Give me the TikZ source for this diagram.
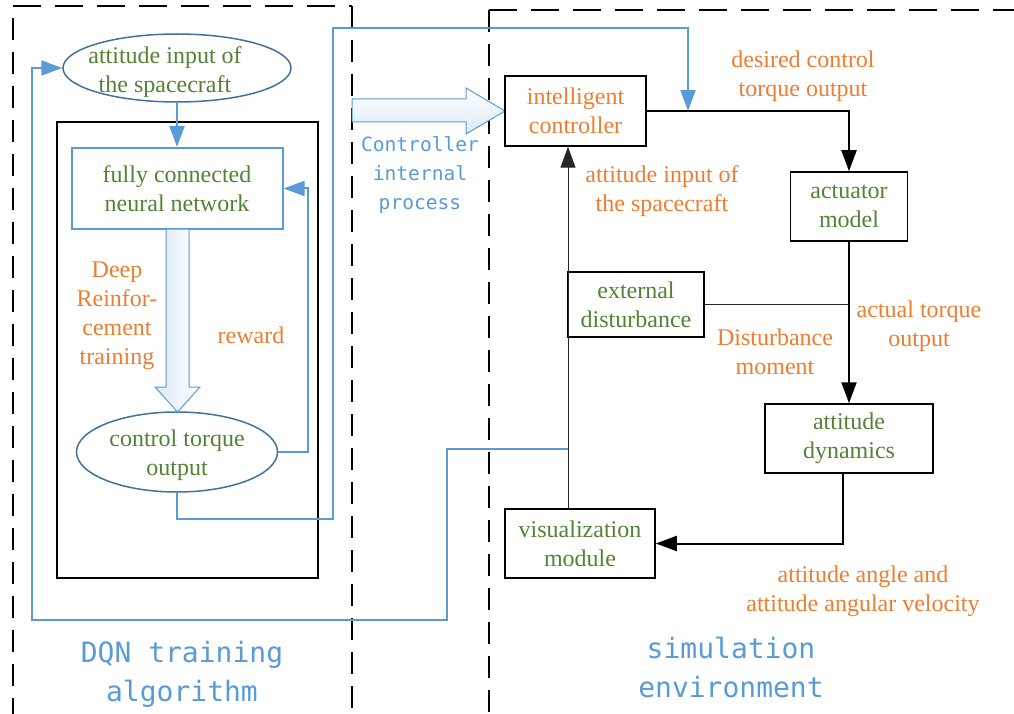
\documentclass[tikz,border=0pt]{standalone}
\usepackage{fontspec}
\setmainfont{Liberation Serif}
\newfontfamily\monofont{DejaVu Sans Mono}
\usetikzlibrary{arrows.meta,shapes.geometric}
\definecolor{cblue}{HTML}{5B9BD5}
\definecolor{cblueD}{HTML}{41719C}
\definecolor{cgreen}{HTML}{548235}
\definecolor{corange}{HTML}{ED7D31}
\begin{document}
\begin{tikzpicture}[x=1pt,y=-1pt,
  txt/.style={font=\fontsize{24}{29}\selectfont, align=center, inner sep=0pt},
  gtxt/.style={txt, text=cgreen},
  otxt/.style={txt, text=corange},
  bbox/.style={draw=black, line width=1.5pt, inner sep=0pt},
  tip/.style={-{Triangle[length=21pt,width=15pt]}},
  blk/.style={draw=black, line width=2pt, tip},
  thinl/.style={draw=black!85, line width=1pt},
  bl/.style={draw=cblue, line width=2pt},
  blarrow/.style={bl, tip},
  ell/.style={ellipse, draw=cblueD, line width=1.5pt, inner sep=0pt},
  hollow/.style={draw=cblue, line width=1pt},
  frameH/.style={draw=black, line width=1.5pt, dash pattern=on 28pt off 14pt},
  frameV/.style={draw=black, line width=1.5pt, dash pattern=on 22pt off 12pt},
  mono/.style={font=\monofont\fontsize{19.6}{29}\selectfont, text=cblue, align=center, inner sep=0pt},
  monoL/.style={font=\monofont\fontsize{28}{39}\selectfont, text=cblue, align=center, inner sep=0pt},
]
\useasboundingbox (0,0) rectangle (1014,714);

% dashed frames
\draw[frameH] (13,6) -- (352,6);
\draw[frameV] (13,18) -- (13,714);
\draw[frameV] (352,6) -- (352,714);
\draw[frameH] (489,10) -- (1014,10);
\draw[frameV] (489,10) -- (489,714);

% left part
\node[ell, minimum width=228pt, minimum height=68pt] (e1) at (177,68) {};
\node[gtxt] (e1t) at (165,72) {attitude input of\\the spacecraft};
\node[draw=black, line width=2pt, minimum width=261pt, minimum height=456pt, inner sep=0pt] (inner) at (187.5,350) {};
\node[draw=cblue, line width=2pt, minimum width=211pt, minimum height=81pt, gtxt] (fc) at (177,188.5) {fully connected\\neural network};
\node[ell, minimum width=201pt, minimum height=80pt] (e2) at (177,452) {};
\node[gtxt] (e2t) at (177,455) {control torque\\output};

\path[hollow, left color=cblue!22, right color=white]
  (166,229) -- (189,229) -- (189,387) -- (200,387) -- (177.5,412) -- (155,387) -- (166,387) -- cycle;

\node[otxt] (drl) at (117,316) {Deep\\Reinfor-\\cement\\training};
\node[otxt] (rew) at (251,335) {reward};

\draw[blarrow] (e1.south) -- (fc.north);
\draw[blarrow] (e2.east) -- ++(30,0) |- (fc.east);

% middle
\path[hollow, top color=white, bottom color=cblue!22]
  (352,99) -- (466,99) -- (466,88) -- (505,111) -- (466,134) -- (466,122) -- (352,122) -- cycle;
\node[mono] (cip) at (420,175) {Controller\\internal\\process};

% right part
\node[bbox, minimum width=141pt, minimum height=70pt, otxt] (ctrl) at (575.5,111) {intelligent\\controller};
\node[bbox, minimum width=117pt, minimum height=69pt, gtxt] (act) at (849,206.5) {actuator\\model};
\node[bbox, minimum width=136pt, minimum height=65pt, gtxt] (ext) at (636,304.5) {external\\disturbance};
\node[bbox, minimum width=168pt, minimum height=69pt, gtxt] (dyn) at (849,438.5) {attitude\\dynamics};
\node[bbox, minimum width=150pt, minimum height=69pt, gtxt] (vis) at (580,543.5) {visualization\\module};

\coordinate (j1) at (688,111);
\coordinate (j2) at (568,449);

\draw[blk] (ctrl.east) -| (act.north);
\draw[blk] (act.south) -- (dyn.north);
\draw[thinl] (ext.east) -- (ext.east -| act.south);
\draw[blk] ([xshift=-6pt]dyn.south) |- (vis.east);
\draw[thinl, tip] ([xshift=-12pt]vis.north) -- ([xshift=-7.5pt]ctrl.south);

% blue feedback lines
\draw[blarrow] (e2.south) -- (177,519) -- (333,519) -- (333,28) -| (j1);
\draw[blarrow] (j2) -- (447,449) -- (447,620) -- (32,620) |- (e1.west);

% labels
\node[otxt] (l1) at (803,76) {desired control\\torque output};
\node[otxt] (l2) at (662,191) {attitude input of\\the spacecraft};
\node[otxt] (l3) at (919,326.5) {actual torque\\output};
\node[otxt] (l4) at (775,352) {Disturbance\\moment};
\node[otxt] (l5) at (863,591.5) {attitude angle and\\attitude angular velocity};

\node[monoL] (dqn) at (182,674) {DQN training\\algorithm};
\node[monoL] (sim) at (731,667) {simulation\\environment};
\end{tikzpicture}
\end{document}
